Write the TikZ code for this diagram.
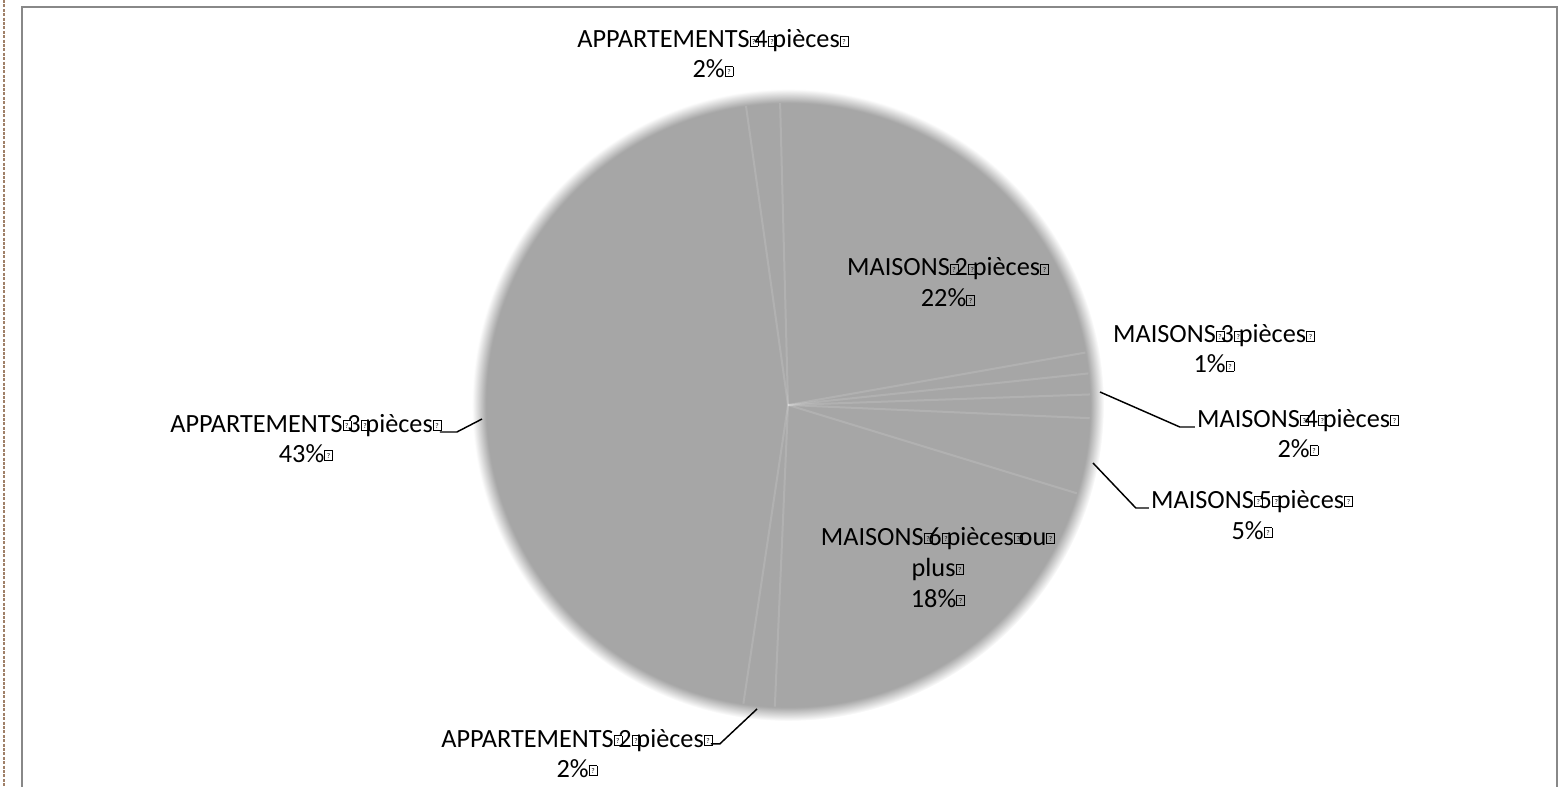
\documentclass[tikz,border=0pt]{standalone}
\usepackage{fontspec}
\setmainfont{Carlito}
\definecolor{piegray}{RGB}{166,166,166}
\definecolor{framegray}{RGB}{136,136,136}
\definecolor{pagedash}{RGB}{160,128,104}
% soft rim of the pie
\pgfdeclareradialshading{piefade}{\pgfpointorigin}{color(0bp)=(piegray); color(23.9bp)=(piegray); color(25bp)=(white); color(50bp)=(white)}
% missing-glyph box printed in place of each space
\newcommand{\qb}{\makebox[3.6pt][l]{\raisebox{1.4pt}{\setlength{\fboxsep}{0pt}\setlength{\fboxrule}{0.55pt}\fbox{\makebox[5.4pt]{\rule{0pt}{6.9pt}\raisebox{1.2pt}{\fontsize{5.5}{5.5}\selectfont ?}}}}}}
\tikzset{
  lbl/.style={anchor=base, inner sep=1.5pt, font=\fontsize{19.7}{23}\selectfont},
  leader/.style={draw=black, line width=1.1pt},
  slice/.style={draw=white, line width=1.5pt, opacity=0.13}
}
\begin{document}
\begin{tikzpicture}[x=0.75pt,y=0.75pt,yscale=-1,xscale=1]
	\useasboundingbox (0,0) rectangle (1566,787);
	\draw [pagedash, line width=1pt, dash pattern=on 2.2pt off 1.1pt] (4,0) -- (4,787);
	\draw [framegray, line width=1.5pt] (22,787) -- (22,7) -- (1557,7) -- (1557,787);
	% pie
	\coordinate (pc) at (788,405);
	\shade [shading=piefade] (pc) circle (316);
	\foreach \a in {-98,-91.5,-10,-6,-2,2.5,17,92.5,98.5} \draw [slice] (pc) -- ++(\a:302);
	% labels
	\draw (711,48) node [lbl] (app4) {APPARTEMENTS\qb 4\qb pièces\qb};
	\draw (711,78) node [lbl] (app4v) {2\%\qb};
	\draw (946,276) node [lbl] (mai2) {MAISONS\qb 2\qb pièces\qb};
	\draw (946,307) node [lbl] (mai2v) {22\%\qb};
	\draw (1212,343) node [lbl] (mai3) {MAISONS\qb 3\qb pièces\qb};
	\draw (1212,373) node [lbl] (mai3v) {1\%\qb};
	\draw (1296,427) node [lbl] (mai4) {MAISONS\qb 4\qb pièces\qb};
	\draw (1296,457) node [lbl] (mai4v) {2\%\qb};
	\draw (1250,508) node [lbl] (mai5) {MAISONS\qb 5\qb pièces\qb};
	\draw (1250,539) node [lbl] (mai5v) {5\%\qb};
	\draw (936,545) node [lbl] (mai6) {MAISONS\qb 6\qb pièces\qb ou\qb};
	\draw (936,576) node [lbl] (mai6p) {plus\qb};
	\draw (936,607) node [lbl] (mai6v) {18\%\qb};
	\draw (304,432) node [lbl] (app3) {APPARTEMENTS\qb 3\qb pièces\qb};
	\draw (304,462) node [lbl] (app3v) {43\%\qb};
	\draw (575,747) node [lbl] (app2) {APPARTEMENTS\qb 2\qb pièces\qb};
	\draw (575,777) node [lbl] (app2v) {2\%\qb};
	% leader lines
	\coordinate (app3p) at (482,419);
	\coordinate (app2p) at (757,709);
	\coordinate (mai4p) at (1100,392);
	\coordinate (mai5p) at (1093,463);
	\draw [leader] (app3.base east) -- ++(17,0) -- (app3p);
	\draw [leader] (app2.mid east) -- ++(9,0) -- (app2p);
	\draw [leader] (mai4.base west) -- ++(-15,0) -- (mai4p);
	\draw [leader] (mai5.base west) -- ++(-13,0) -- (mai5p);
\end{tikzpicture}
\end{document}
